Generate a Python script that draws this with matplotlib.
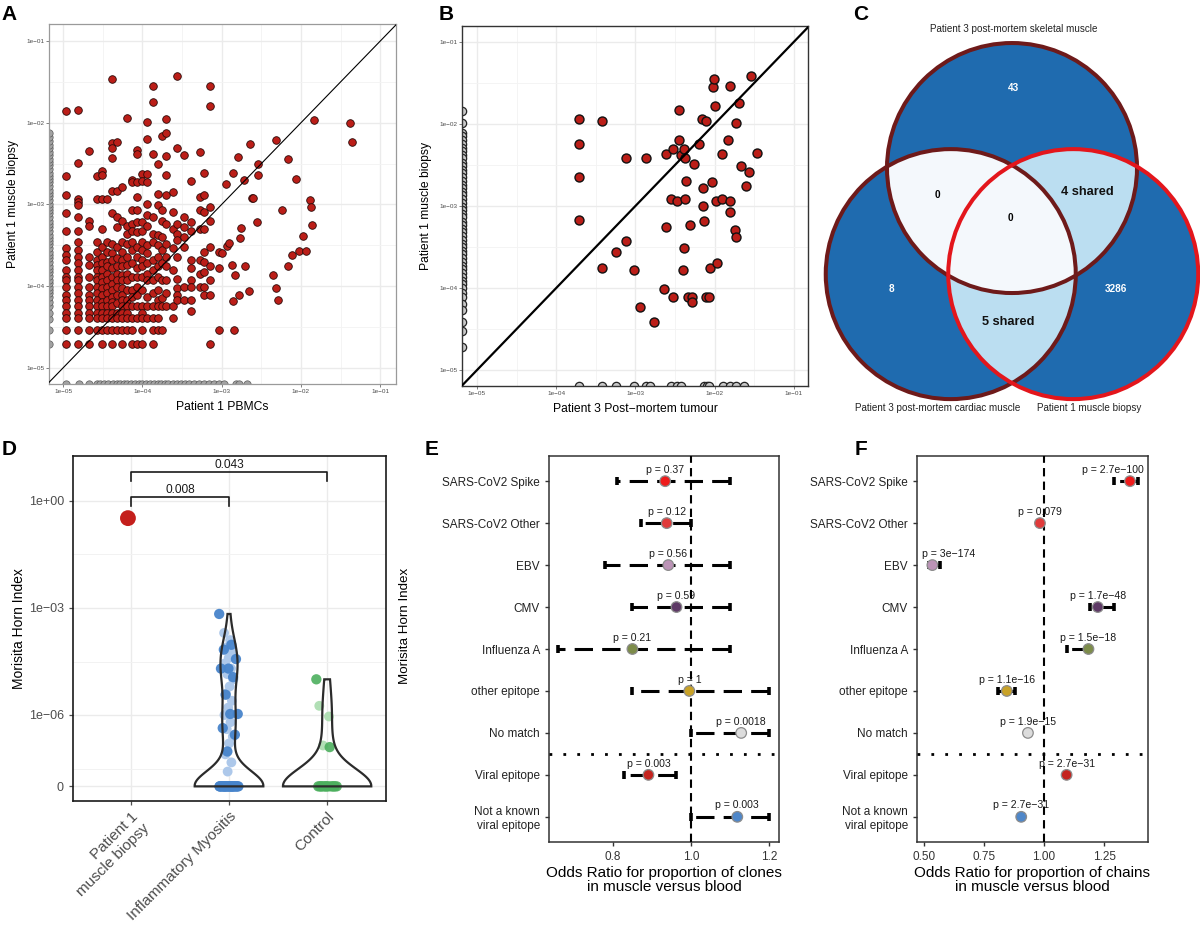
import numpy as np
import matplotlib
matplotlib.use("Agg")
import matplotlib.pyplot as plt
from matplotlib.ticker import FixedLocator, NullFormatter
from matplotlib.patches import Circle

plt.rcParams['font.family'] = ['Liberation Sans', 'DejaVu Sans']

# ---------------- data ----------------
# A: clone frequencies (log10), muscle biopsy vs PBMCs, grouped by PBMC column
a_col_x = [-4.97, -4.81, -4.68, -4.57, -4.51, -4.45, -4.38, -4.32, -4.26, -4.19,
           -4.13, -4.07, -4.00, -3.94, -3.87, -3.81, -3.75, -3.70, -3.62, -3.56,
           -3.47, -3.39, -3.28, -3.22, -3.15, -3.04, -3.00]
a_col_y = [
    [-1.85, -2.65, -2.88, -3.10, -3.32, -3.53, -3.62, -3.68, -3.80, -3.89, -3.93, -4.01, -4.11, -4.17, -4.25, -4.33, -4.39, -4.54, -4.71],
    [-1.84, -2.49, -2.93, -2.97, -3.01, -3.15, -3.32, -3.46, -3.56, -3.64, -3.72, -3.80, -3.89, -3.93, -4.01, -4.09, -4.17, -4.25, -4.33, -4.39, -4.54, -4.71],
    [-2.35, -3.20, -3.26, -3.64, -3.74, -3.89, -4.01, -4.11, -4.17, -4.25, -4.33, -4.39, -4.54, -4.71],
    [-2.65, -2.93, -3.46, -3.58, -3.68, -3.74, -3.80, -3.89, -3.93, -4.01, -4.09, -4.17, -4.25, -4.33, -4.39, -4.54],
    [-2.59, -2.64, -2.93, -3.30, -3.52, -3.64, -3.72, -3.80, -3.89, -3.95, -4.03, -4.11, -4.19, -4.25, -4.33, -4.39, -4.54, -4.71],
    [-2.93, -3.46, -3.58, -3.70, -3.76, -3.85, -3.93, -4.01, -4.09, -4.17, -4.25, -4.33, -4.39, -4.54],
    [-1.46, -2.25, -2.31, -2.43, -2.84, -3.11, -3.48, -3.60, -3.68, -3.78, -3.89, -3.97, -4.05, -4.13, -4.19, -4.25, -4.33, -4.39, -4.54, -4.71],
    [-2.24, -2.83, -3.15, -3.28, -3.52, -3.66, -3.76, -3.85, -3.93, -4.01, -4.11, -4.21, -4.33, -4.39, -4.54],
    [-2.79, -3.20, -3.46, -3.58, -3.68, -3.76, -3.87, -3.93, -4.03, -4.11, -4.17, -4.25, -4.33, -4.39, -4.54, -4.71],
    [-1.94, -3.26, -3.36, -3.48, -3.64, -3.74, -3.85, -3.93, -4.05, -4.17, -4.25, -4.33, -4.39, -4.54],
    [-2.70, -2.73, -3.07, -3.24, -3.32, -3.46, -3.56, -3.72, -3.89, -4.05, -4.13, -4.25, -4.39, -4.54, -4.71],
    [-2.33, -2.38, -2.72, -2.91, -3.07, -3.22, -3.34, -3.52, -3.64, -3.78, -3.89, -4.01, -4.11, -4.25, -4.39, -4.71],
    [-2.63, -2.71, -3.22, -3.32, -3.46, -3.56, -3.68, -3.76, -3.89, -4.05, -4.25, -4.33, -4.39, -4.54, -4.71],
    [-1.99, -2.20, -2.63, -2.72, -2.99, -3.13, -3.26, -3.50, -3.60, -3.72, -3.85, -3.93, -4.13, -4.25, -4.39],
    [-1.55, -1.74, -2.38, -3.15, -3.36, -3.46, -3.68, -3.80, -3.93, -4.09, -4.25, -4.39, -4.54, -4.71],
    [-2.50, -2.87, -3.01, -3.38, -3.50, -3.64, -3.76, -3.89, -4.05, -4.17, -4.25, -4.39, -4.54],
    [-2.16, -3.07, -3.20, -3.40, -3.56, -3.72, -3.93, -4.15, -4.25, -4.54],
    [-1.95, -2.13, -2.41, -2.64, -2.89, -3.24, -3.48, -3.64, -3.76, -3.93, -4.09, -4.25],
    [-2.85, -3.09, -3.30, -3.54, -3.80, -4.25, -4.39],
    [-1.43, -2.31, -3.24, -3.36, -3.44, -3.64, -3.91, -4.03, -4.11, -4.17],
    [-2.39, -3.15, -3.28, -3.40, -3.52, -4.01, -4.17],
    [-2.71, -3.22, -3.32, -3.68, -3.78, -3.93, -4.01, -4.17, -4.31],
    [-2.36, -2.91, -3.07, -3.30, -3.68, -3.85, -4.01],
    [-2.61, -2.89, -3.09, -3.30, -3.58, -3.70, -3.83, -4.01, -4.11],
    [-1.55, -1.79, -3.03, -3.20, -3.52, -3.76, -3.93, -4.11, -4.71],
    [-3.58, -3.78, -4.54],
    [-3.60],
]
a_sparse_x = [-2.94, -2.93, -2.91, -2.87, -2.86, -2.86, -2.85, -2.83, -2.79, -2.78, -2.77, -2.76, -2.72,
              -2.70, -2.66, -2.64, -2.62, -2.60, -2.55, -2.54, -2.54, -2.35, -2.32, -2.31, -2.29, -2.24,
              -2.16, -2.16, -2.11, -2.06, -2.02, -1.97, -1.94, -1.89, -1.87, -1.86, -1.84, -1.38, -1.35]
a_sparse_y = [-2.75, -3.51, -3.47, -3.74, -2.61, -4.18, -4.54, -3.87, -2.42, -4.11, -3.41, -3.29, -2.70,
              -3.76, -4.06, -2.26, -2.92, -2.92, -3.22, -2.50, -2.64, -3.87, -4.02, -2.21, -4.17, -3.07,
              -2.44, -3.76, -3.62, -2.69, -3.57, -3.39, -3.57, -2.94, -3.03, -3.25, -1.97, -2.00, -2.24]
# clones absent from one sample (drawn on the panel edge)
a_zero_left_y = [-4.71, -4.54, -4.40, -4.33, -4.25, -4.19, -4.13, -4.09, -4.05, -4.01, -3.96, -3.92, -3.88,
                 -3.83, -3.79, -3.75, -3.71, -3.66, -3.62, -3.58, -3.54, -3.49, -3.45, -3.41, -3.37, -3.33,
                 -3.28, -3.24, -3.20, -3.16, -3.11, -3.07, -3.03, -2.99, -2.95, -2.90, -2.86, -2.82, -2.78,
                 -2.73, -2.69, -2.65, -2.61, -2.57, -2.52, -2.48, -2.44, -2.40, -2.36, -2.31, -2.27, -2.22,
                 -2.17, -2.13]
a_zero_bottom_x = [-4.97, -4.80, -4.68, -4.58, -4.53, -4.49, -4.44, -4.37, -4.32, -4.28, -4.23, -4.19, -4.14,
                   -4.10, -4.05, -4.00, -3.95, -3.91, -3.86, -3.81, -3.77, -3.72, -3.68, -3.62, -3.57, -3.52,
                   -3.46, -3.41, -3.35, -3.29, -3.22, -3.16, -3.10, -3.03, -2.97, -2.82, -2.78, -2.68]

# B: muscle biopsy vs post-mortem tumour (log10)
b_x = [-3.71, -3.71, -3.71, -3.71, -3.42, -3.42, -3.24, -3.12, -3.12, -3.02, -2.87, -2.94, -2.77, -2.64,
       -2.61, -2.61, -2.55, -2.52, -2.52, -2.47, -2.45, -2.45, -2.43, -2.38, -2.37, -2.37, -2.38, -2.40,
       -2.36, -2.33, -2.31, -2.28, -2.29, -2.26, -2.20, -2.16, -2.11, -2.15, -2.14, -2.13, -2.11, -2.07,
       -2.06, -2.03, -2.02, -2.01, -1.99, -1.98, -1.97, -1.91, -1.90, -1.83, -1.81, -1.81, -1.80, -1.74,
       -1.73, -1.73, -1.69, -1.67, -1.60, -1.57, -1.54, -1.47]
b_y = [-1.94, -2.24, -2.65, -3.17, -1.96, -3.76, -3.56, -3.43, -2.42, -3.78, -2.41, -4.23, -4.41, -4.01,
       -2.36, -3.26, -2.92, -2.30, -4.11, -2.94, -1.83, -2.20, -2.38, -2.30, -2.41, -2.91, -3.51, -3.78,
       -2.70, -4.11, -3.23, -4.11, -4.17, -2.49, -2.24, -1.94, -1.96, -2.78, -3.00, -3.18, -4.11, -4.11,
       -3.76, -2.71, -1.55, -1.45, -1.78, -2.94, -3.69, -2.37, -2.92, -2.20, -1.54, -2.94, -3.07, -3.29,
       -3.38, -1.99, -1.74, -2.51, -2.76, -2.58, -1.42, -2.35]
b_zero_left_y = [-1.84, -1.99, -2.11, -2.15, -2.20, -2.24, -2.29, -2.33, -2.38, -2.42, -2.47, -2.51, -2.56,
                 -2.60, -2.65, -2.69, -2.74, -2.78, -2.83, -2.87, -2.92, -2.96, -3.01, -3.05, -3.10, -3.14,
                 -3.19, -3.23, -3.28, -3.32, -3.37, -3.41, -3.46, -3.50, -3.55, -3.59, -3.64, -3.68, -3.73,
                 -3.77, -3.82, -3.86, -3.91, -3.95, -4.00, -4.06, -4.11, -4.19, -4.27, -4.41, -4.53, -4.72]
b_zero_bottom_x = [-3.71, -3.42, -3.24, -3.02, -2.87, -2.82, -2.55, -2.47, -2.43, -2.13, -2.10, -2.07,
                   -1.89, -1.81, -1.73, -1.63]

# C: Venn of shared clonotypes
venn_set_names = ['Patient 3 post-mortem skeletal muscle', 'Patient 3 post-mortem cardiac muscle',
                  'Patient 1 muscle biopsy']
# regions keyed by membership code (1 = skeletal, 2 = cardiac, 4 = biopsy)
venn_codes = [1, 2, 4, 3, 5, 6, 7]
venn_labels = ['43', '8', '3286', '0', '4 shared', '5 shared', '0']

# D: Morisita-Horn overlap index
d_groups = ['Patient 1\nmuscle biopsy', 'Inflammatory Myositis', 'Control']
d_patient = [0.33]
d_im_dark = [6.8e-4, 9.3e-5, 6.8e-5, 3.7e-5, 2.0e-5, 2.0e-5, 1.15e-5, 3.7e-6, 1.06e-6, 1.06e-6,
             4.2e-7, 2.7e-7, 8.5e-8,
             0, 0, 0, 0, 0, 0, 0, 0, 0, 0, 0, 0, 0, 0, 0, 0, 0, 0, 0, 0, 0, 0, 0, 0]
d_im_light = [2.0e-4, 1.26e-4, 7.9e-5, 5.6e-5, 4.0e-5, 2.8e-5, 2.0e-5, 1.4e-5, 1.0e-5, 6.3e-6, 4.0e-6,
              2.5e-6, 1.6e-6, 9.9e-7, 6.2e-7, 3.9e-7, 2.4e-7, 1.5e-7, 6.9e-8, 3.7e-8, 1.6e-8,
              0, 0, 0, 0, 0, 0, 0, 0, 0, 0, 0, 0, 0, 0, 0, 0, 0, 0, 0, 0]
d_ctrl_dark = [1.0e-5, 1.16e-7, 0, 0, 0, 0, 0, 0, 0, 0, 0, 0, 0]
d_ctrl_light = [1.8e-6, 9.0e-7, 1.3e-7, 0, 0, 0, 0, 0, 0, 0, 0, 0, 0, 0]
d_brackets = [(1, 2, '0.008'), (1, 3, '0.043')]

# E / F: odds ratios
ef_labels = ['SARS-CoV2 Spike', 'SARS-CoV2 Other', 'EBV', 'CMV', 'Influenza A', 'other epitope',
             'No match', 'Viral epitope', 'Not a known\nviral epitope']
ef_colors = ['#ee1c1c', '#e03a3a', '#bb93b6', '#5e3a66', '#7d8c4a', '#c9a227', '#dcdcdc',
             '#c4241f', '#4f87c9']
e_or = [0.934, 0.938, 0.942, 0.963, 0.850, 0.996, 1.129, 0.891, 1.119]
e_lo = [0.811, 0.871, 0.779, 0.848, 0.660, 0.850, 1.000, 0.829, 1.000]
e_hi = [1.100, 0.999, 1.100, 1.100, 1.100, 1.200, 1.200, 0.962, 1.200]
e_p = ['0.37', '0.12', '0.56', '0.59', '0.21', '1', '0.0018', '0.003', '0.003']
f_or = [1.358, 0.983, 0.535, 1.224, 1.185, 0.845, 0.933, 1.094, 0.905]
f_lo = [1.292, 0.975, 0.520, 1.192, 1.094, 0.810, 0.925, 1.088, 0.897]
f_hi = [1.393, 0.991, 0.567, 1.293, 1.190, 0.879, 0.941, 1.100, 0.913]
f_p = ['2.7e\u2212100', '0.079', '3e\u2212174', '1.7e\u221248', '1.5e\u221218', '1.1e\u221216',
       '1.9e\u221215', '2.7e\u221231', '2.7e\u221231']

# ---------------- figure ----------------
W, H = 1200, 926
fig = plt.figure(figsize=(12, 9.26), dpi=100)


def px_box(l, t, r, b):
    return [l / W, 1 - b / H, (r - l) / W, (b - t) / H]


def letter(x, y, s):
    fig.text(x / W, 1 - y / H, s, fontsize=15, fontweight='bold', va='top', ha='left')


def log_panel(ax, xlim, ylim, border, lw_border):
    ax.set_xscale('log')
    ax.set_yscale('log')
    ax.set_xlim(10 ** xlim[0], 10 ** xlim[1])
    ax.set_ylim(10 ** ylim[0], 10 ** ylim[1])
    majors = [1e-5, 1e-4, 1e-3, 1e-2, 1e-1]
    minors = [10 ** (-5.5), 10 ** (-4.5), 10 ** (-3.5), 10 ** (-2.5), 10 ** (-1.5), 10 ** (-0.5)]
    labs = ['1e\u221205', '1e\u221204', '1e\u221203', '1e\u221202', '1e\u221201']
    for axis in (ax.xaxis, ax.yaxis):
        axis.set_major_locator(FixedLocator(majors))
        axis.set_minor_locator(FixedLocator(minors))
        axis.set_minor_formatter(NullFormatter())
    ax.set_xticklabels(labs)
    ax.set_yticklabels(labs)
    ax.grid(which='major', color='#ebebeb', lw=1.0)
    ax.grid(which='minor', color='#f3f3f3', lw=0.6)
    ax.set_axisbelow(True)
    ax.tick_params(which='major', labelsize=4.6, colors='#4d4d4d', length=2, width=0.5, pad=1.5)
    ax.tick_params(which='minor', length=0)
    for sp in ax.spines.values():
        sp.set_color(border)
        sp.set_linewidth(lw_border)


# ---- A ----
axA = fig.add_axes(px_box(49, 24, 396, 384))
log_panel(axA, (-5.18, -0.80), (-5.20, -0.79), '#9a9a9a', 0.9)
ax_x = []
ax_y = []
for cx, ys in zip(a_col_x, a_col_y):
    ax_x += [cx] * len(ys)
    ax_y += ys
ax_x += a_sparse_x
ax_y += a_sparse_y
lo_x, lo_y = 10 ** -5.18, 10 ** -5.20
axA.scatter([lo_x] * len(a_zero_left_y), 10 ** np.array(a_zero_left_y), s=28, c='#a3a3a3',
            edgecolors='#5a5a5a', linewidths=0.5, zorder=2)
axA.scatter(10 ** np.array(a_zero_bottom_x), [lo_y] * len(a_zero_bottom_x), s=28, c='#a3a3a3',
            edgecolors='#5a5a5a', linewidths=0.5, zorder=2)
axA.scatter(10 ** np.array(ax_x), 10 ** np.array(ax_y), s=30, c='#bb1e18', edgecolors='#2a0a08',
            linewidths=0.6, zorder=3)
axA.plot([1e-6, 1], [1e-6, 1], color='black', lw=0.8, zorder=4)
axA.set_xlabel('Patient 1 PBMCs', fontsize=8.7, labelpad=5)
axA.set_ylabel('Patient 1 muscle biopsy', fontsize=8.7, labelpad=5)
letter(1, 5, 'A')

# ---- B ----
axB = fig.add_axes(px_box(462, 26, 808, 386))
log_panel(axB, (-5.19, -0.82), (-5.195, -0.805), '#333333', 1.0)
blo_x, blo_y = 10 ** -5.19, 10 ** -5.195
axB.scatter([blo_x] * len(b_zero_left_y), 10 ** np.array(b_zero_left_y), s=36, c='#c8c8c8',
            edgecolors='#222222', linewidths=0.9, zorder=2)
axB.scatter(10 ** np.array(b_zero_bottom_x), [blo_y] * len(b_zero_bottom_x), s=36, c='#c8c8c8',
            edgecolors='#222222', linewidths=0.9, zorder=2)
axB.scatter(10 ** np.array(b_x), 10 ** np.array(b_y), s=42, c='#bb1e18', edgecolors='#111111',
            linewidths=1.0, zorder=3)
axB.plot([1e-6, 1], [1e-6, 1], color='black', lw=1.6, zorder=4)
axB.set_xlabel('Patient 3 Post\u2212mortem tumour', fontsize=8.7, labelpad=5)
axB.set_ylabel('Patient 1 muscle biopsy', fontsize=8.7, labelpad=5)
letter(439, 5, 'B')

# ---- C (Venn) ----
axC = fig.add_axes(px_box(800, 0, 1200, 420))
cx0, cx1, cy0, cy1 = -1.696, 1.504, -1.450, 1.910
side = 0.98
centers = [(0.0, side / np.sqrt(3)), (-side / 2, -side / (2 * np.sqrt(3))),
           (side / 2, -side / (2 * np.sqrt(3)))]
gx = np.linspace(cx0, cx1, 900)
gy = np.linspace(cy0, cy1, 945)
GX, GY = np.meshgrid(gx, gy)
code = np.zeros(GX.shape, dtype=int)
for k, (ccx, ccy) in enumerate(centers):
    code += ((GX - ccx) ** 2 + (GY - ccy) ** 2 <= 1.0).astype(int) * (2 ** k)
dark_blue = (0.122, 0.420, 0.690, 1)
light_blue = (0.737, 0.871, 0.949, 1)
pale = (0.957, 0.976, 0.992, 1)
img = np.zeros(GX.shape + (4,))
for cde, lab in zip(venn_codes, venn_labels):
    if cde in (1, 2, 4):
        col = dark_blue
    elif lab == '0':
        col = pale
    else:
        col = light_blue
    img[code == cde] = col
axC.imshow(img, extent=(cx0, cx1, cy0, cy1), origin='lower', interpolation='bilinear', aspect='auto')
edge_cols = ['#6e1a1a', '#6e1a1a', '#e3161c']
for (ccx, ccy), ec in zip(centers, edge_cols):
    axC.add_patch(Circle((ccx, ccy), 1.0, fill=False, edgecolor=ec, lw=2.9, zorder=3))
label_pos = {1: (0.008, 1.206), 2: (-0.968, -0.402), 4: (0.832, -0.402), 3: (-0.60, 0.35),
             5: (0.60, 0.373), 6: (-0.032, -0.666), 7: (-0.016, 0.166)}
for cde, lab in zip(venn_codes, venn_labels):
    x, y = label_pos[cde]
    if cde in (1, 2, 4):
        axC.text(x, y, lab, color='white', fontsize=7.2, fontweight='bold', ha='center', va='center', zorder=4)
    elif lab == '0':
        axC.text(x, y, lab, color='black', fontsize=7.2, fontweight='bold', ha='center', va='center', zorder=4)
    else:
        axC.text(x, y, lab, color='#111111', fontsize=9.2, fontweight='bold', ha='center', va='center', zorder=4)
set_pos = [(0.016, 1.676), (-0.592, -1.354), (0.616, -1.354)]
for (x, y), name in zip(set_pos, venn_set_names):
    axC.text(x, y, name, fontsize=7.1, color='#222222', ha='center', va='center')
axC.set_xlim(cx0, cx1)
axC.set_ylim(cy0, cy1)
axC.axis('off')
letter(853, 5, 'C')

# ---- D ----
axD = fig.add_axes(px_box(73, 456, 386, 801))


def mh_fwd(v):
    return np.log10(np.maximum(np.asarray(v, dtype=float) + 1e-8, 1e-12))


def mh_inv(t):
    return 10.0 ** np.asarray(t, dtype=float) - 1e-8


axD.set_yscale('function', functions=(mh_fwd, mh_inv))
axD.set_ylim(mh_inv(-8.41), mh_inv(1.26))
axD.set_xlim(0.41, 3.6)
axD.yaxis.set_major_locator(FixedLocator([0, 1e-6, 1e-3, 1]))
axD.set_yticklabels(['0', '1e\u221206', '1e\u221203', '1e+00'])
axD.yaxis.set_minor_locator(FixedLocator([mh_inv(-7.5), mh_inv(-4.5), mh_inv(-1.5)]))
axD.yaxis.set_minor_formatter(NullFormatter())
axD.set_xticks([1, 2, 3])
axD.set_xticklabels(d_groups, rotation=45, ha='right', rotation_mode='anchor', fontsize=11)
axD.grid(which='major', color='#ebebeb', lw=1.0)
axD.grid(which='minor', axis='y', color='#f2f2f2', lw=0.7)
axD.set_axisbelow(True)
axD.tick_params(axis='y', which='major', labelsize=9, colors='#4d4d4d', length=3, width=0.9)
axD.tick_params(axis='x', which='major', colors='#4d4d4d', length=3, width=0.9, pad=3)
axD.tick_params(which='minor', length=0)
for sp in axD.spines.values():
    sp.set_color('#1a1a1a')
    sp.set_linewidth(1.2)


def jitter(n, width):
    return np.array([width * (((i * 0.618034) % 1.0) * 2 - 1) for i in range(n)])


def violin(ax, pos, values, half_width, bw):
    t = mh_fwd(values)
    grid = np.linspace(t.min(), t.max(), 300)
    dens = np.exp(-0.5 * ((grid[None, :] - t[:, None]) / bw) ** 2).sum(axis=0)
    w = half_width * dens / dens.max()
    xs = np.concatenate([pos - w, (pos + w)[::-1]])
    ys = np.concatenate([grid, grid[::-1]])
    ax.fill(xs, mh_inv(ys), facecolor='none', edgecolor='#2b2b2b', lw=1.6, zorder=5)


axD.scatter(2 + jitter(len(d_im_light), 0.05), d_im_light, s=50, c='#adc8ea', edgecolors='none',
            zorder=2)
axD.scatter(2 + jitter(len(d_im_dark), 0.10), d_im_dark, s=55, c='#4784cb', edgecolors='none',
            alpha=0.95, zorder=3)
axD.scatter(3 + jitter(len(d_ctrl_light), 0.08), d_ctrl_light, s=50, c='#a9dcad', edgecolors='none',
            alpha=0.9, zorder=2)
axD.scatter(3 + jitter(len(d_ctrl_dark), 0.11), d_ctrl_dark, s=55, c='#4caf5e', edgecolors='none',
            alpha=0.9, zorder=3)
axD.scatter([0.97], d_patient, s=130, c='#c41f1c', edgecolors='none', zorder=4)
violin(axD, 2, d_im_dark + d_im_light, 0.35, 0.42)
violin(axD, 3, d_ctrl_dark + d_ctrl_light, 0.45, 0.5)
bracket_levels = [(0.11, -0.14, 0.31), (0.81, 0.56, 1.01)]
for (g1, g2, lab), (top, tip, ty) in zip(d_brackets, bracket_levels):
    axD.plot([g1, g1, g2, g2], mh_inv([tip, top, top, tip]), color='#1a1a1a', lw=1.2, zorder=6)
    axD.text((g1 + g2) / 2, mh_inv(ty), lab, ha='center', va='center', fontsize=8.6, color='#1a1a1a')
axD.set_ylabel('Morisita Horn Index', fontsize=10)
axD.yaxis.set_label_coords(-0.15, 0.5)
letter(2, 440, 'D')


# ---- E / F ----
def forest(ax, ors, los, his, ps, xlim, ticks, ticklabs, xlabel):
    n = len(ors)
    rows = np.arange(1, n + 1)
    ax.set_xlim(*xlim)
    ax.set_ylim(n + 0.6, 0.4)
    ax.set_yticks(rows)
    ax.set_yticklabels(ef_labels, fontsize=8.5, color='#222222')
    ax.set_xticks(ticks)
    ax.set_xticklabels(ticklabs, fontsize=8.5, color='#333333')
    ax.tick_params(length=3, width=1.0, colors='#333333')
    ax.tick_params(axis='y', labelcolor='#222222')
    for sp in ax.spines.values():
        sp.set_color('#333333')
        sp.set_linewidth(1.1)
    ax.axvline(1.0, color='black', lw=1.5, ls=(0, (4, 2.5)), zorder=4)
    ax.axhline(7.5, color='black', lw=2.0, ls=(0, (1, 4)), zorder=4)
    for i in range(n):
        y = rows[i]
        ax.plot([his[i], los[i]], [y, y], color='black', lw=2.2, ls=(0, (6, 3)),
                dash_capstyle='butt', zorder=3)
        ax.plot([los[i], his[i]], [y, y], ls='none', marker='|', ms=5.5, mew=2.6, color='black', zorder=3)
    ax.scatter(ors, rows, s=58, c=ef_colors, edgecolors='#8c8c8c', linewidths=0.9, zorder=5)
    renderer = fig.canvas.get_renderer()
    axbb = ax.get_window_extent(renderer)
    for i in range(n):
        txt = ax.text(ors[i], rows[i] - 0.27, 'p = ' + ps[i], ha='center', va='center', fontsize=7.6,
                      color='#1a1a1a', zorder=2)
        bb = txt.get_window_extent(renderer)
        shift = 0
        if bb.x1 > axbb.x1 - 4:
            shift = (axbb.x1 - 4) - bb.x1
        elif bb.x0 < axbb.x0 + 5:
            shift = (axbb.x0 + 5) - bb.x0
        if shift:
            cx_disp = ax.transData.transform((ors[i], rows[i] - 0.27))
            newx = ax.transData.inverted().transform((cx_disp[0] + shift, cx_disp[1]))[0]
            txt.set_x(newx)
    ax.set_xlabel(xlabel, fontsize=11, linespacing=1.05, labelpad=2)


axE = fig.add_axes(px_box(549, 456, 779, 842))
forest(axE, e_or, e_lo, e_hi, e_p, (0.636, 1.226), [0.8, 1.0, 1.2], ['0.8', '1.0', '1.2'],
       'Odds Ratio for proportion of clones\nin muscle versus blood')
axE.set_ylabel('Morisita Horn Index', fontsize=9.6)
axE.yaxis.set_label_coords(-0.60, 0.56)
letter(425, 440, 'E')

axF = fig.add_axes(px_box(917, 456, 1148, 842))
forest(axF, f_or, f_lo, f_hi, f_p, (0.471, 1.433), [0.5, 0.75, 1.0, 1.25],
       ['0.50', '0.75', '1.00', '1.25'], 'Odds Ratio for proportion of chains\nin muscle versus blood')
letter(855, 440, 'F')

fig.savefig('out.png', dpi=100)
